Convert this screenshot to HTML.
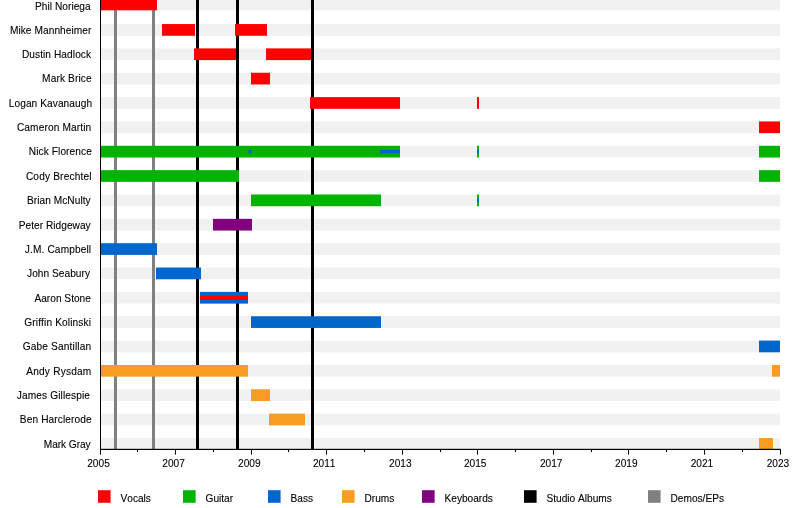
<!DOCTYPE html>
<html><head><meta charset="utf-8"><style>
html,body{margin:0;padding:0;background:#fff;width:800px;height:508px;overflow:hidden}
svg{display:block}
text{font-family:"Liberation Sans",Arial,sans-serif;font-size:10.15px;fill:#000;font-variant-ligatures:none;font-kerning:none;stroke:#000;stroke-width:0.1px}
</style></head><body>
<svg width="800" height="508" viewBox="0 0 800 508">
<rect x="0" y="0" width="800" height="508" fill="#fff"/>

<rect x="100" y="-1.40" width="680" height="11.7" fill="#f1f1f1"/>
<rect x="100" y="24.05" width="680" height="11.7" fill="#f1f1f1"/>
<rect x="100" y="48.40" width="680" height="11.7" fill="#f1f1f1"/>
<rect x="100" y="72.75" width="680" height="11.7" fill="#f1f1f1"/>
<rect x="100" y="97.10" width="680" height="11.7" fill="#f1f1f1"/>
<rect x="100" y="121.45" width="680" height="11.7" fill="#f1f1f1"/>
<rect x="100" y="145.80" width="680" height="11.7" fill="#f1f1f1"/>
<rect x="100" y="170.15" width="680" height="11.7" fill="#f1f1f1"/>
<rect x="100" y="194.50" width="680" height="11.7" fill="#f1f1f1"/>
<rect x="100" y="218.85" width="680" height="11.7" fill="#f1f1f1"/>
<rect x="100" y="243.20" width="680" height="11.7" fill="#f1f1f1"/>
<rect x="100" y="267.55" width="680" height="11.7" fill="#f1f1f1"/>
<rect x="100" y="291.90" width="680" height="11.7" fill="#f1f1f1"/>
<rect x="100" y="316.25" width="680" height="11.7" fill="#f1f1f1"/>
<rect x="100" y="340.60" width="680" height="11.7" fill="#f1f1f1"/>
<rect x="100" y="364.95" width="680" height="11.7" fill="#f1f1f1"/>
<rect x="100" y="389.30" width="680" height="11.7" fill="#f1f1f1"/>
<rect x="100" y="413.65" width="680" height="11.7" fill="#f1f1f1"/>
<rect x="100" y="438.00" width="680" height="11.7" fill="#f1f1f1"/>
<rect x="114.00" y="0" width="3" height="449" fill="#808080"/>
<rect x="152.00" y="0" width="3" height="449" fill="#808080"/>
<rect x="196.00" y="0" width="3" height="449" fill="#000"/>
<rect x="236.00" y="0" width="3" height="449" fill="#000"/>
<rect x="311.00" y="0" width="3" height="449" fill="#000"/>
<rect x="100" y="-1.40" width="57" height="11.7" fill="#ff0000"/>
<rect x="162" y="24.05" width="33" height="11.7" fill="#ff0000"/>
<rect x="235" y="24.05" width="32" height="11.7" fill="#ff0000"/>
<rect x="194" y="48.40" width="42" height="11.7" fill="#ff0000"/>
<rect x="266" y="48.40" width="45" height="11.7" fill="#ff0000"/>
<rect x="251" y="72.75" width="19" height="11.7" fill="#ff0000"/>
<rect x="310" y="97.10" width="90" height="11.7" fill="#ff0000"/>
<rect x="477" y="97.10" width="2" height="11.7" fill="#ff0000"/>
<rect x="759" y="121.45" width="21" height="11.7" fill="#ff0000"/>
<rect x="100" y="145.80" width="300" height="11.7" fill="#00b300"/>
<rect x="759" y="145.80" width="21" height="11.7" fill="#00b300"/>
<rect x="477" y="145.80" width="2" height="11.7" fill="#00b300"/>
<rect x="100" y="170.15" width="139" height="11.7" fill="#00b300"/>
<rect x="759" y="170.15" width="21" height="11.7" fill="#00b300"/>
<rect x="251" y="194.50" width="130" height="11.7" fill="#00b300"/>
<rect x="477" y="194.50" width="2" height="11.7" fill="#00b300"/>
<rect x="213" y="218.85" width="39" height="11.7" fill="#800080"/>
<rect x="100" y="243.20" width="57" height="11.7" fill="#0066cc"/>
<rect x="156" y="267.55" width="45" height="11.7" fill="#0066cc"/>
<rect x="200" y="291.90" width="48" height="11.7" fill="#0066cc"/>
<rect x="251" y="316.25" width="130" height="11.7" fill="#0066cc"/>
<rect x="759" y="340.60" width="21" height="11.7" fill="#0066cc"/>
<rect x="100" y="364.95" width="148" height="11.7" fill="#f99c22"/>
<rect x="772" y="364.95" width="8" height="11.7" fill="#f99c22"/>
<rect x="251" y="389.30" width="19" height="11.7" fill="#f99c22"/>
<rect x="269" y="413.65" width="36" height="11.7" fill="#f99c22"/>
<rect x="759" y="438.00" width="14" height="11.7" fill="#f99c22"/>
<rect x="380" y="149.85" width="20" height="3.6" fill="#0066cc"/>
<rect x="477" y="149.85" width="2" height="3.6" fill="#0066cc"/>
<rect x="248.6" y="149.85" width="2.8000000000000114" height="3.6" fill="#0066cc"/>
<rect x="477" y="198.55" width="2" height="3.6" fill="#0066cc"/>
<rect x="200" y="295.95" width="48" height="3.6" fill="#ff0000"/>
<rect x="100" y="0" width="1" height="449.5" fill="#000"/>
<rect x="100" y="448.8" width="681" height="1.2" fill="#000"/>
<rect x="100" y="449" width="1" height="5.6" fill="#000"/>
<text x="98.50" y="467" text-anchor="middle">2005</text>
<rect x="137" y="449" width="1" height="3.1" fill="#000"/>
<rect x="175" y="449" width="1" height="5.6" fill="#000"/>
<text x="173.56" y="467" text-anchor="middle">2007</text>
<rect x="213" y="449" width="1" height="3.1" fill="#000"/>
<rect x="251" y="449" width="1" height="5.6" fill="#000"/>
<text x="249.36" y="467" text-anchor="middle">2009</text>
<rect x="288" y="449" width="1" height="3.1" fill="#000"/>
<rect x="326" y="449" width="1" height="5.6" fill="#000"/>
<text x="324.17" y="467" text-anchor="middle">2011</text>
<rect x="364" y="449" width="1" height="3.1" fill="#000"/>
<rect x="402" y="449" width="1" height="5.6" fill="#000"/>
<text x="400.32" y="467" text-anchor="middle">2013</text>
<rect x="440" y="449" width="1" height="3.1" fill="#000"/>
<rect x="477" y="449" width="1" height="5.6" fill="#000"/>
<text x="475.18" y="467" text-anchor="middle">2015</text>
<rect x="515" y="449" width="1" height="3.1" fill="#000"/>
<rect x="553" y="449" width="1" height="5.6" fill="#000"/>
<text x="551.23" y="467" text-anchor="middle">2017</text>
<rect x="591" y="449" width="1" height="3.1" fill="#000"/>
<rect x="628" y="449" width="1" height="5.6" fill="#000"/>
<text x="626.39" y="467" text-anchor="middle">2019</text>
<rect x="666" y="449" width="1" height="3.1" fill="#000"/>
<rect x="704" y="449" width="1" height="5.6" fill="#000"/>
<text x="701.94" y="467" text-anchor="middle">2021</text>
<rect x="742" y="449" width="1" height="3.1" fill="#000"/>
<rect x="780" y="449" width="1" height="5.6" fill="#000"/>
<text x="777.90" y="467" text-anchor="middle">2023</text>
<text class="nm" x="90.69" y="9.75" text-anchor="end" textLength="55.7" lengthAdjust="spacing">Phil Noriega</text>
<text class="nm" x="91.42" y="33.70" text-anchor="end" textLength="81.51" lengthAdjust="spacing">Mike Mannheimer</text>
<text class="nm" x="91.05" y="58.05" text-anchor="end" textLength="69.16" lengthAdjust="spacing">Dustin Hadlock</text>
<text class="nm" x="91.65" y="82.40" text-anchor="end" textLength="49.53" lengthAdjust="spacing">Mark Brice</text>
<text class="nm" x="92.06" y="106.75" text-anchor="end" textLength="83.28" lengthAdjust="spacing">Logan Kavanaugh</text>
<text class="nm" x="91.2" y="131.10" text-anchor="end" textLength="74.28" lengthAdjust="spacing">Cameron Martin</text>
<text class="nm" x="91.85" y="155.45" text-anchor="end" textLength="63.08" lengthAdjust="spacing">Nick Florence</text>
<text class="nm" x="91.5" y="179.80" text-anchor="end" textLength="65.62" lengthAdjust="spacing">Cody Brechtel</text>
<text class="nm" x="90.66" y="204.15" text-anchor="end" textLength="63.7" lengthAdjust="spacing">Brian McNulty</text>
<text class="nm" x="90.66" y="228.50" text-anchor="end" textLength="71.88" lengthAdjust="spacing">Peter Ridgeway</text>
<text class="nm" x="91.12" y="252.85" text-anchor="end" textLength="66.31" lengthAdjust="spacing">J.M. Campbell</text>
<text class="nm" x="90.0" y="277.20" text-anchor="end" textLength="62.95" lengthAdjust="spacing">John Seabury</text>
<text class="nm" x="90.88" y="301.55" text-anchor="end" textLength="56.42" lengthAdjust="spacing">Aaron Stone</text>
<text class="nm" x="90.91" y="325.90" text-anchor="end" textLength="66.62" lengthAdjust="spacing">Griffin Kolinski</text>
<text class="nm" x="91.2" y="350.25" text-anchor="end" textLength="68.52" lengthAdjust="spacing">Gabe Santillan</text>
<text class="nm" x="91.25" y="374.60" text-anchor="end" textLength="65.0" lengthAdjust="spacing">Andy Rysdam</text>
<text class="nm" x="89.97" y="398.95" text-anchor="end" textLength="73.19" lengthAdjust="spacing">James Gillespie</text>
<text class="nm" x="91.65" y="423.30" text-anchor="end" textLength="71.81" lengthAdjust="spacing">Ben Harclerode</text>
<text class="nm" x="90.66" y="447.65" text-anchor="end" textLength="46.89" lengthAdjust="spacing">Mark Gray</text>
<rect x="98" y="490.2" width="12.6" height="12.6" fill="#ff0000"/>
<text x="120.5" y="501.8">Vocals</text>
<rect x="183" y="490.2" width="12.6" height="12.6" fill="#00b300"/>
<text x="205.5" y="501.8">Guitar</text>
<rect x="268" y="490.2" width="12.6" height="12.6" fill="#0066cc"/>
<text x="290.5" y="501.8">Bass</text>
<rect x="342" y="490.2" width="12.6" height="12.6" fill="#f99c22"/>
<text x="364.5" y="501.8">Drums</text>
<rect x="422" y="490.2" width="12.6" height="12.6" fill="#800080"/>
<text x="444.5" y="501.8">Keyboards</text>
<rect x="524" y="490.2" width="12.6" height="12.6" fill="#000"/>
<text x="546.5" y="501.8">Studio Albums</text>
<rect x="648" y="490.2" width="12.6" height="12.6" fill="#808080"/>
<text x="670.5" y="501.8">Demos/EPs</text>
</svg></body></html>
